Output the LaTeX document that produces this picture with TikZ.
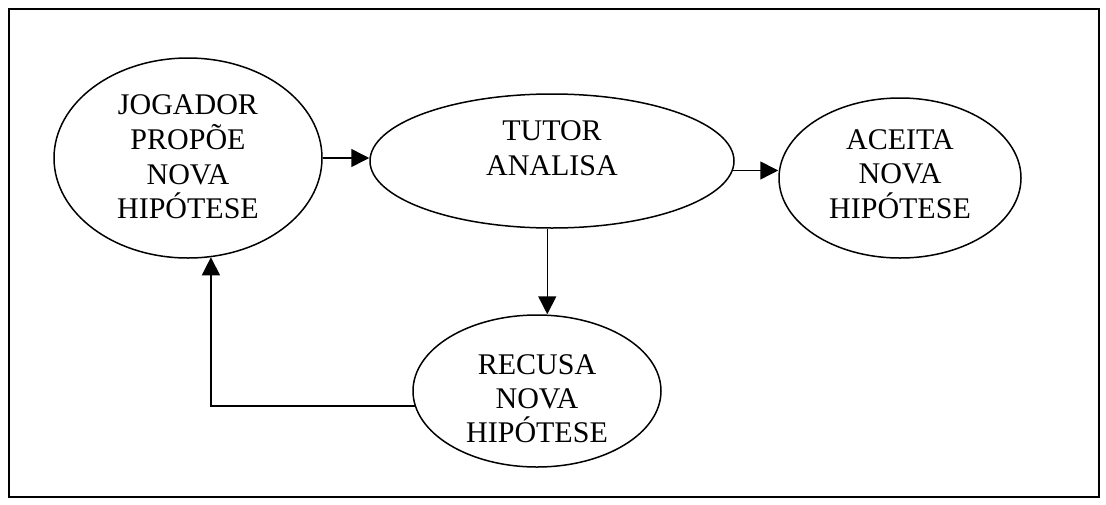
\documentclass[tikz,border=0pt]{standalone}
\usepackage{fontspec}
\setmainfont{Liberation Serif}
\usetikzlibrary{shapes.geometric,arrows.meta}
\tikzset{
  oval/.style={draw, ellipse, line width=1.5pt, inner sep=0pt, fill=white},
  txt/.style={anchor=base, inner sep=0pt, font=\fontsize{30}{35}\selectfont},
  arr/.style={line width=1.5pt, -{Triangle[length=18pt,width=18pt]}},
}
\begin{document}
\begin{tikzpicture}[x=1pt,y=-1pt]
\useasboundingbox (0,0) rectangle (1106,504);
\node[draw, line width=1.5pt, minimum width=1090pt, minimum height=488pt, anchor=north west, inner sep=0pt] (frame) at (8,8) {};
% ellipses
\node[oval, minimum width=268pt, minimum height=200pt] (jog) at (188,158) {};
\node[oval, minimum width=364pt, minimum height=134pt] (tut) at (552,161) {};
\node[oval, minimum width=242pt, minimum height=160pt] (ace) at (900,178) {};
\node[oval, minimum width=248pt, minimum height=152pt] (rec) at (537,391) {};
% texts
\node[txt] (j1) at (188,114) {JOGADOR};
\node[txt] (j2) at (188,149) {PROPÕE};
\node[txt] (j3) at (188,184) {NOVA};
\node[txt] (j4) at (188,218) {HIPÓTESE};
\node[txt] (t1) at (552,140) {TUTOR};
\node[txt] (t2) at (552,175) {ANALISA};
\node[txt] (a1) at (900,149) {ACEITA};
\node[txt] (a2) at (900,183) {NOVA};
\node[txt] (a3) at (900,218) {HIPÓTESE};
\node[txt] (r1) at (537,374) {RECUSA};
\node[txt] (r2) at (537,408) {NOVA};
\node[txt] (r3) at (537,442) {HIPÓTESE};
% connectors
\draw[arr] (jog.east) -- (jog.east -| tut.west);
\draw[arr] (tut.-3.5) -- (tut.-3.5 -| ace.west);
\draw[arr] (tut.-94) -- (tut.-94 |- rec.north);
\draw[arr] (rec.187) -| (jog.-77);
\end{tikzpicture}
\end{document}
